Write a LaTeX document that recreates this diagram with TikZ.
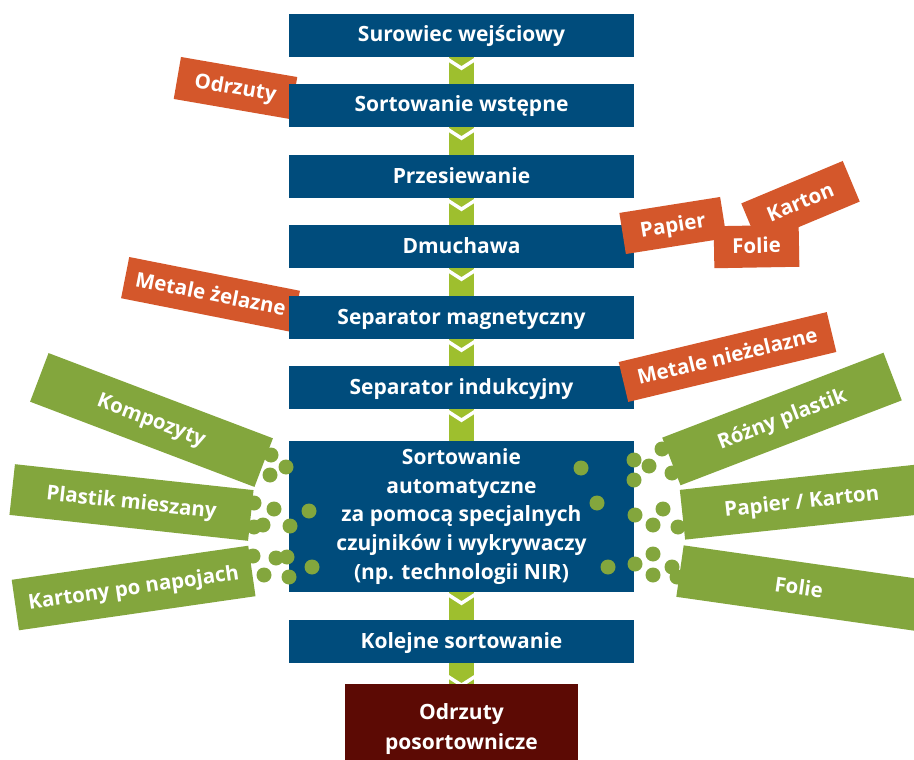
\documentclass[tikz,border=0pt]{standalone}
\usepackage{fontspec}
\setmainfont{Open Sans}
\definecolor{boxblue}{RGB}{0,76,124}
\definecolor{lblorange}{RGB}{212,87,43}
\definecolor{lblgreen}{RGB}{131,166,61}
\definecolor{chevgreen}{RGB}{158,191,46}
\definecolor{finalred}{RGB}{92,10,4}
\newcommand\mychev[3]{%
  \begin{scope}
    \clip ([xshift=-12.5pt]#1.south) rectangle ([xshift=12.5pt]#2.north);
    \fill[chev] ([xshift=-12.5pt]#1.south) rectangle ([xshift=12.5pt]#2.north);
    \draw[vcut] ([xshift=-14pt,yshift=-#3pt+1pt]#1.south) -- ([yshift=-#3pt-8pt]#1.south) -- ([xshift=14pt,yshift=-#3pt+1pt]#1.south);
  \end{scope}}
\tikzset{
  stagebase/.style={fill=boxblue, text=white, inner sep=0pt, minimum width=345pt,
    font=\bfseries\fontsize{21}{28.6}\selectfont},
  stage/.style={stagebase, minimum height=43pt, text height=15pt, text depth=2pt},
  lblbase/.style={text=white, inner sep=0pt, text height=15pt, text depth=2pt,
    font=\bfseries\fontsize{20.5}{24}\selectfont},
  olabel/.style={lblbase, fill=lblorange},
  glabel/.style={lblbase, fill=lblgreen},
  pdot/.style={circle, fill=lblgreen, minimum size=15pt, inner sep=0pt},
  chev/.style={fill=chevgreen},
  vcut/.style={draw=white, line width=3.5pt}
}
\begin{document}
\begin{tikzpicture}[x=1pt,y=-1pt]
\useasboundingbox (0,0) rectangle (914,760);
\clip (0,0) rectangle (914,760);
\fill[white] (0,0) rectangle (914,760);

% green side labels
\node[glabel, rotate=-20.8, minimum width=240pt, minimum height=52pt] (komp) at (151.5,420) {Kompozyty};
\node[glabel, rotate=-6.2, minimum width=240pt, minimum height=51pt] (plmi) at (131.5,502.5) {Plastik mieszany};
\node[glabel, rotate=8.2, minimum width=239pt, minimum height=51pt] (kart) at (133.6,588) {Kartony po napojach};
\node[glabel, rotate=21, minimum width=237pt, minimum height=51pt] (rozn) at (782,419) {Różny plastik};
\node[glabel, rotate=6.1, minimum width=240pt, minimum height=50pt] (papk) at (801.8,502) {Papier / Karton};
\node[glabel, rotate=-8.1, minimum width=240pt, minimum height=52pt] (folg) at (798.8,588) {Folie};

% orange labels behind the stages
\node[olabel, rotate=-9.8, minimum width=118pt, minimum height=42.6pt] (odrz) at (235.5,88) {Odrzuty};
\node[olabel, rotate=-11.2, minimum width=174pt, minimum height=42pt] (mzel) at (210.5,294.5) {Metale żelazne};

% stages
\node[stage] (b1) at (461.5,35.5) {Surowiec wejściowy};
\node[stage] (b2) at (461.5,105.5) {Sortowanie wstępne};
\node[stage] (b3) at (461.5,176.5) {Przesiewanie};
\node[stage] (b4) at (461.5,246.5) {Dmuchawa};
\node[stage] (b5) at (461.5,317.5) {Separator magnetyczny};
\node[stage] (b6) at (461.5,387.5) {Separator indukcyjny};
\node[stagebase, minimum height=151pt, align=center] (b7) at (461.5,516.5)
  {Sortowanie\\automatyczne\\za pomocą specjalnych\\czujników i wykrywaczy\\(np. technologii NIR)};
\node[stage] (b8) at (461.5,641.5) {Kolejne sortowanie};
\node[stagebase, fill=finalred, minimum width=233pt, minimum height=76pt] (b9) at (461.5,722) {};
\node[text=white, inner sep=0pt, align=center, font=\bfseries\fontsize{21}{29.5}\selectfont]
  (b9t) at (461.5,729) {Odrzuty\\posortownicze};

% chevron connectors
\mychev{b1}{b2}{3}
\mychev{b2}{b3}{3}
\mychev{b3}{b4}{3}
\mychev{b4}{b5}{3}
\mychev{b5}{b6}{3}
\mychev{b6}{b7}{3}
\mychev{b7}{b8}{3}
\mychev{b8}{b9}{14}

% orange labels in front
\node[olabel, rotate=13.5, minimum width=214pt, minimum height=41pt] (mniez) at (727.5,357) {Metale nieżelazne};
\node[olabel, rotate=9, minimum width=102pt, minimum height=41.6pt] (pap) at (673,225.5) {Papier};
\node[olabel, rotate=22.7, minimum width=110pt, minimum height=44pt] (karton) at (800.5,202.5) {Karton};
\node[olabel, rotate=1, minimum width=85pt, minimum height=42pt] (folo) at (756.5,246.5) {Folie};

% dots
\foreach \px/\py [count=\i] in {271/455,286/467,270/475,254/503,274/509,309/511,254/527,263/525,290/526,253/556,276/558,287/557,312/567,264/575,289/577}
  \node[pdot] (dl\i) at (\px,\py) {};
\foreach \px/\py [count=\i] in {581/468,634/460,649/466,634/480,662/449,672/473,597/503,635/515,663/509,653/525,678/527,608/567,635/564,653/554,653/575,672/567,677/577}
  \node[pdot] (dr\i) at (\px,\py) {};
\end{tikzpicture}
\end{document}
